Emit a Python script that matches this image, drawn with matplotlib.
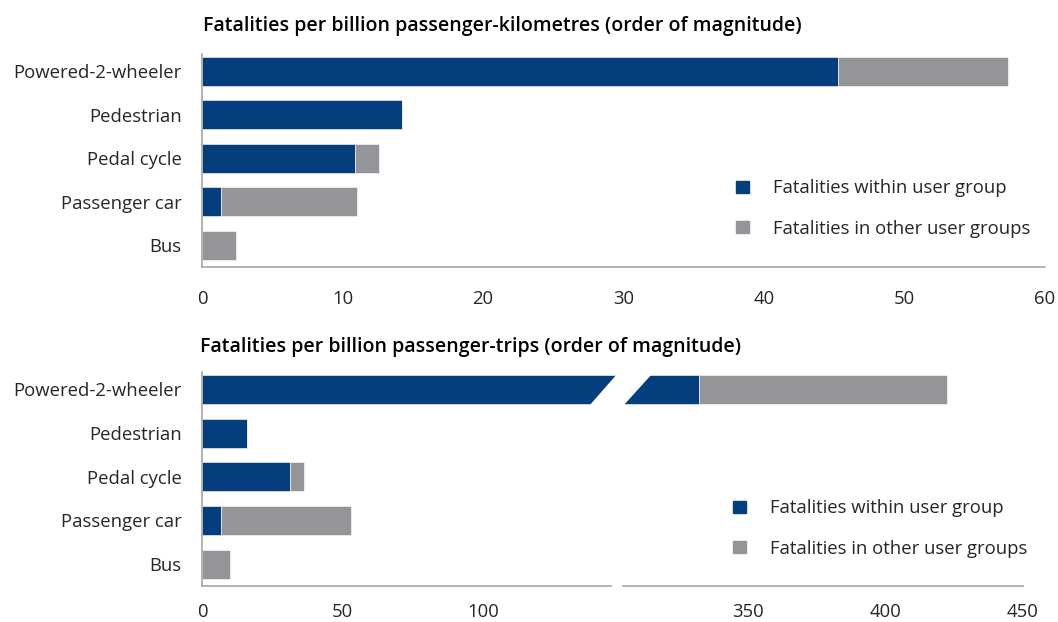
import numpy as np
import matplotlib
matplotlib.use("Agg")
import matplotlib.pyplot as plt
from matplotlib.patches import Polygon, Patch
from matplotlib.transforms import IdentityTransform

# ---------------- data ----------------
categories = ["Powered-2-wheeler", "Pedestrian", "Pedal cycle", "Passenger car", "Bus"]
km_within = [45.3, 14.2, 10.9, 1.35, 0.0]
km_other = [12.1, 0.0, 1.7, 9.65, 2.4]
trips_within = [332.0, 16.0, 31.3, 6.6, 0.0]
trips_other = [90.5, 0.0, 5.1, 46.4, 10.0]
km_ticks = [0, 10, 20, 30, 40, 50, 60]
trip_ticks = [0, 50, 100, 350, 400, 450]
legend_labels = ["Fatalities within user group", "Fatalities in other user groups"]
title_km = "Fatalities per billion passenger-kilometres (order of magnitude)"
title_trips = "Fatalities per billion passenger-trips (order of magnitude)"

# ---------------- style ----------------
BLUE = "#043e7c"
GREY = "#939598"
SPINE = "#a6a6a6"
TXT = "#262626"
FS = 13.3
plt.rcParams["font.family"] = ["Open Sans", "DejaVu Sans"]

W, H = 1058, 622
fig = plt.figure(figsize=(W / 100, H / 100), dpi=100)


def rect(l, t, r, b):
    return [l / W, 1 - b / H, (r - l) / W, (b - t) / H]


ax1 = fig.add_axes(rect(202, 54, 1045, 267))
ax2 = fig.add_axes(rect(202, 372, 1023, 586))

# broken scale for lower chart: 0..146 and 304..450
L1, L2 = 146.0, 304.0
S1 = 410.0 / L1          # px per unit left segment
GAP = 10.0
S2 = 401.0 / (450 - L2)  # px per unit right segment


def fwd(v):
    v = np.asarray(v, dtype=float)
    return np.where(v <= L1, v * S1,
                    np.where(v >= L2, L1 * S1 + GAP + (v - L2) * S2,
                             L1 * S1 + (v - L1) * GAP / (L2 - L1)))


def inv(p):
    p = np.asarray(p, dtype=float)
    a = L1 * S1
    return np.where(p <= a, p / S1,
                    np.where(p >= a + GAP, L2 + (p - a - GAP) / S2,
                             L1 + (p - a) * (L2 - L1) / GAP))


ax2.set_xscale("function", functions=(fwd, inv))

y = np.arange(len(categories))[::-1]
for ax, within, other in ((ax1, km_within, km_other), (ax2, trips_within, trips_other)):
    ax.barh(y, within, height=0.667, color=BLUE, edgecolor="white", linewidth=0.4, label=legend_labels[0])
    ax.barh(y, other, left=within, height=0.667, color=GREY, edgecolor="white", linewidth=0.4,
            label=legend_labels[1])
    ax.set_ylim(-0.5, 4.4)
    ax.set_yticks(y)
    ax.set_yticklabels(categories, fontsize=FS, color=TXT)
    for s in ("top", "right"):
        ax.spines[s].set_visible(False)
    for s in ("left", "bottom"):
        ax.spines[s].set_color(SPINE)
        ax.spines[s].set_linewidth(1.2)
    ax.tick_params(axis="both", length=0, labelsize=FS, colors=TXT)
    ax.tick_params(axis="y", pad=14.5)

ax1.tick_params(axis="x", pad=16.5)
ax2.tick_params(axis="x", pad=12)

ax1.set_xlim(0, 60)
ax1.set_xticks(km_ticks)
ax2.set_xlim(0, 450)
ax2.set_xticks(trip_ticks)
ax2.set_xticklabels([str(t) for t in trip_ticks])

fig.text(203 / W, 1 - 26 / H, title_km, fontsize=14, fontweight="semibold", color="black", va="center")
fig.text(200 / W, 1 - 347 / H, title_trips, fontsize=14, fontweight="semibold", color="black", va="center")

# legends
handles = [Patch(color=BLUE), Patch(color=GREY)]
for ax, lx, ly in ((ax1, 736, 208.5), (ax2, 733, 528.5)):
    ax.legend(handles, legend_labels, loc="center left", bbox_to_anchor=(lx / W, 1 - ly / H),
              bbox_transform=fig.transFigure, frameon=False, fontsize=FS,
              handlelength=0.68, handleheight=0.68, handletextpad=1.3, labelspacing=1.2,
              borderpad=0, borderaxespad=0, labelcolor=TXT)

# break decoration on lower chart
fig.canvas.draw()
cx, cy = ax2.transData.transform((225, 4))
cx += 3.5
verts = np.array([(-31, -16), (3, -16), (32, 16), (-3, 16)], dtype=float) + [cx, cy]
ax2.add_patch(Polygon(verts, closed=True, facecolor="white", edgecolor="none",
                      transform=IdentityTransform(), clip_on=False, zorder=5))
bx, by = ax2.transData.transform((225, -0.5))
gap_pts = np.array([(-5, -3), (5, -3), (5, 3), (-5, 3)], dtype=float) + [bx, by]
ax2.add_patch(Polygon(gap_pts, closed=True, facecolor="white", edgecolor="none",
                      transform=IdentityTransform(), clip_on=False, zorder=5))

fig.savefig("out.png", dpi=100)
